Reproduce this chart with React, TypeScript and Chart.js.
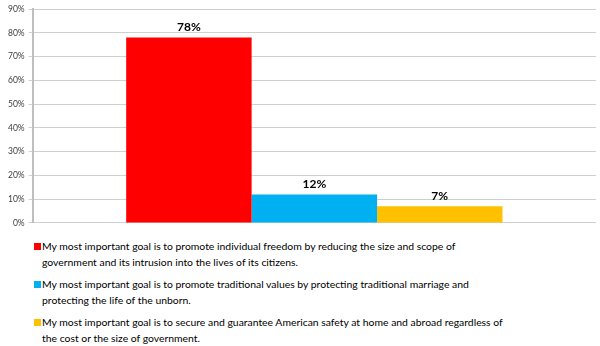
import React, { useEffect, useRef } from "react";
import { Chart, registerables } from "chart.js";

Chart.register(...registerables);

const categories = [""];
const seriesLabelLines = [
  ["My most important goal is to promote individual freedom by reducing the size and scope of", "government and its intrusion into the lives of its citizens."],
  ["My most important goal is to promote traditional values by protecting traditional marriage and", "protecting the life of the unborn."],
  ["My most important goal is to secure and guarantee American safety at home and abroad regardless of", "the cost or the size of government."],
];
const seriesValues = [78, 12, 7];
const seriesColors = ["#FF0000", "#00B0F0", "#FFC000"];
const yTicks = [0, 10, 20, 30, 40, 50, 60, 70, 80, 90];

const valueLabelPlugin = {
  id: "valueLabels",
  afterDatasetsDraw(chart: any) {
    const ctx = chart.ctx;
    ctx.save();
    ctx.font = "bold 12px Lato, 'Liberation Sans', Arial, sans-serif";
    ctx.fillStyle = "#000";
    ctx.textAlign = "center";
    ctx.textBaseline = "bottom";
    chart.data.datasets.forEach((ds: any, i: number) => {
      const meta = chart.getDatasetMeta(i);
      meta.data.forEach((bar: any, j: number) => {
        ctx.fillText(ds.data[j] + "%", bar.x, bar.y - 4);
      });
    });
    ctx.restore();
  },
};

export default function App() {
  const ref = useRef<HTMLCanvasElement>(null);
  useEffect(() => {
    document.body.style.margin = "0";
    const chart = new Chart(ref.current!, {
      type: "bar",
      data: {
        labels: categories,
        datasets: seriesValues.map((v, i) => ({
          label: seriesLabelLines[i].join(" "),
          data: [v],
          backgroundColor: seriesColors[i],
          borderWidth: 0,
          categoryPercentage: 0.668,
          barPercentage: 1,
        })),
      },
      options: {
        animation: false,
        responsive: false,
        maintainAspectRatio: false,
        layout: { padding: { top: 5, left: 4, right: 4, bottom: 0 } },
        plugins: { legend: { display: false }, tooltip: { enabled: false } },
        scales: {
          x: { display: false },
          y: {
            min: 0,
            max: 90,
            afterBuildTicks: (axis: any) => {
              axis.ticks = yTicks.map((v) => ({ value: v }));
            },
            ticks: {
              callback: (v: any) => v + "%",
              font: { size: 8.5, family: "Lato, 'Liberation Sans', Arial, sans-serif" },
              color: "#404040",
              padding: 4,
            },
            grid: { color: "#cfcfcf", lineWidth: 1, drawTicks: true, tickLength: 4 },
            border: { color: "#bfbfbf", width: 2 },
          },
        },
      },
      plugins: [valueLabelPlugin],
    });
    return () => chart.destroy();
  }, []);

  return (
    <div style={{ width: 600, height: 346, background: "#fff", overflow: "hidden", fontFamily: "Lato, 'Liberation Sans', Arial, sans-serif" }}>
      <canvas ref={ref} width={600} height={232} style={{ display: "block" }} />
      <div style={{ paddingLeft: 34, paddingTop: 6 }}>
        {seriesLabelLines.map((lines, i) => (
          <div key={i} style={{ display: "flex", alignItems: "flex-start", marginBottom: 6, fontSize: 10.4, lineHeight: "16px", height: 32, color: "#000", whiteSpace: "nowrap" }}>
            <span style={{ display: "inline-block", width: 7, height: 7, background: seriesColors[i], marginTop: 5, marginRight: 1, flex: "none" }} />
            <span>
              {lines[0]}
              <br />
              {lines[1]}
            </span>
          </div>
        ))}
      </div>
    </div>
  );
}
